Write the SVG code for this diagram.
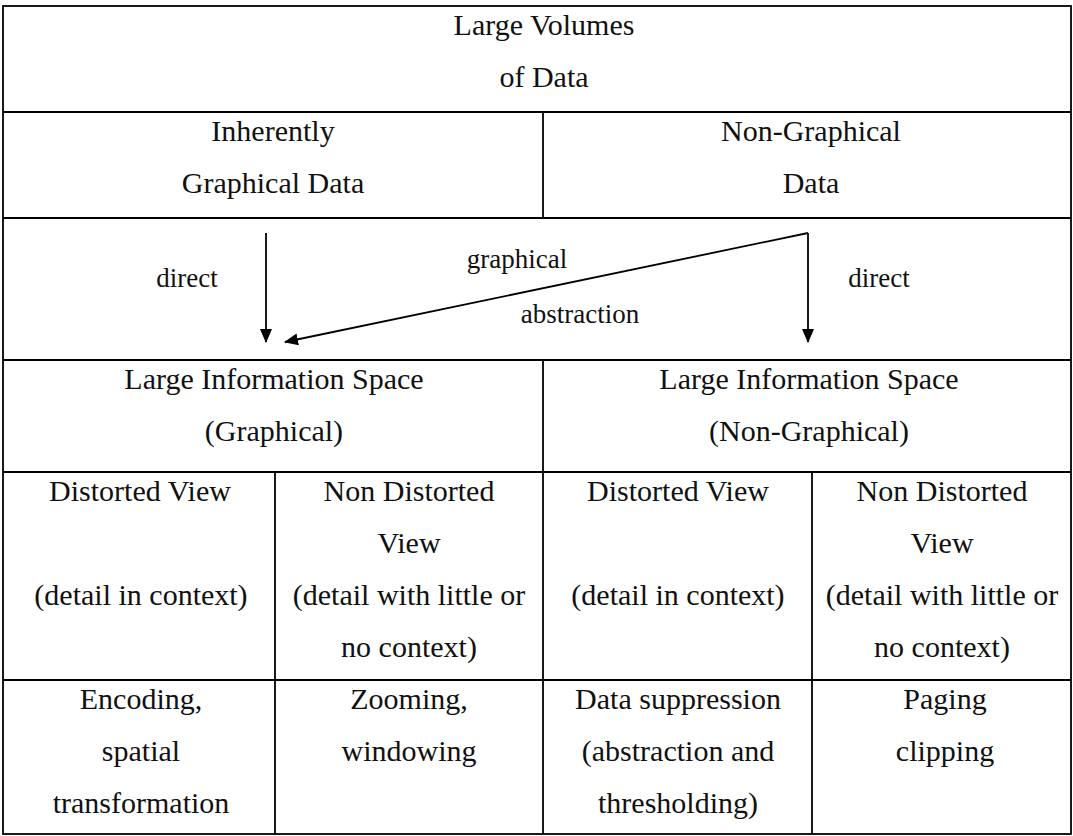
<svg xmlns="http://www.w3.org/2000/svg" width="1073" height="836" viewBox="0 0 1073 836">
<style>
.b{stroke:#000;stroke-width:1.8;fill:none}
text{fill:#111;text-anchor:middle;font-family:"Liberation Serif","Times New Roman",serif}
.t{font-size:30px}
.s{font-size:27px}
.c{stroke:#000;stroke-width:1.8;fill:none}
</style>
<defs>
<marker id="ah" viewBox="0 0 14 12" refX="13" refY="6" markerWidth="14" markerHeight="12" markerUnits="userSpaceOnUse" orient="auto">
<path d="M0,0 L14,6 L0,12 Z" fill="#000"/>
</marker>
</defs>
<rect width="1073" height="836" fill="#fff"/>
<g id="grid">
<rect class="b" x="3" y="6" width="1068" height="828"/>
<line class="b" x1="3" y1="112" x2="1071" y2="112"/>
<line class="b" x1="3" y1="218" x2="1071" y2="218"/>
<line class="b" x1="3" y1="360" x2="1071" y2="360"/>
<line class="b" x1="3" y1="472" x2="1071" y2="472"/>
<line class="b" x1="3" y1="680" x2="1071" y2="680"/>
<line class="b" x1="543" y1="112" x2="543" y2="218"/>
<line class="b" x1="543" y1="360" x2="543" y2="834"/>
<line class="b" x1="275" y1="472" x2="275" y2="834"/>
<line class="b" x1="812" y1="472" x2="812" y2="834"/>
</g>
<g id="n-large-volumes"><text class="t" x="544" y="35">Large Volumes</text><text class="t" x="544" y="87">of Data</text></g>
<g id="n-graphical-data"><text class="t" x="273" y="141">Inherently</text><text class="t" x="273" y="193">Graphical Data</text></g>
<g id="n-nongraphical-data"><text class="t" x="811" y="141">Non-Graphical</text><text class="t" x="811" y="193">Data</text></g>
<g id="n-space-graphical"><text class="t" x="274" y="389">Large Information Space</text><text class="t" x="274" y="441">(Graphical)</text></g>
<g id="n-space-nongraphical"><text class="t" x="809" y="389">Large Information Space</text><text class="t" x="809" y="441">(Non-Graphical)</text></g>
<g id="n-g-distorted"><text class="t" x="140" y="501">Distorted View</text><text class="t" x="141" y="605">(detail in context)</text></g>
<g id="n-g-nondistorted"><text class="t" x="409" y="501">Non Distorted</text><text class="t" x="409" y="553">View</text><text class="t" x="409" y="605">(detail with little or</text><text class="t" x="409" y="657">no context)</text></g>
<g id="n-n-distorted"><text class="t" x="678" y="501">Distorted View</text><text class="t" x="678" y="605">(detail in context)</text></g>
<g id="n-n-nondistorted"><text class="t" x="942" y="501">Non Distorted</text><text class="t" x="942" y="553">View</text><text class="t" x="942" y="605">(detail with little or</text><text class="t" x="942" y="657">no context)</text></g>
<g id="n-encoding"><text class="t" x="141" y="709">Encoding,</text><text class="t" x="141" y="761">spatial</text><text class="t" x="141" y="813">transformation</text></g>
<g id="n-zooming"><text class="t" x="409" y="709">Zooming,</text><text class="t" x="409" y="761">windowing</text></g>
<g id="n-suppression"><text class="t" x="678" y="709">Data suppression</text><text class="t" x="678" y="761">(abstraction and</text><text class="t" x="678" y="813">thresholding)</text></g>
<g id="n-paging"><text class="t" x="945" y="709">Paging</text><text class="t" x="945" y="761">clipping</text></g>
<g id="connectors">
<line class="c" x1="266" y1="233" x2="266" y2="342" marker-end="url(#ah)"/>
<line class="c" x1="808" y1="233" x2="808" y2="342" marker-end="url(#ah)"/>
<line class="c" x1="808" y1="233" x2="285" y2="342" marker-end="url(#ah)"/>
<text class="s" x="187" y="287">direct</text>
<text class="s" x="879" y="287">direct</text>
<text class="s" x="517" y="268">graphical</text>
<text class="s" x="580" y="323">abstraction</text>
</g>
</svg>
